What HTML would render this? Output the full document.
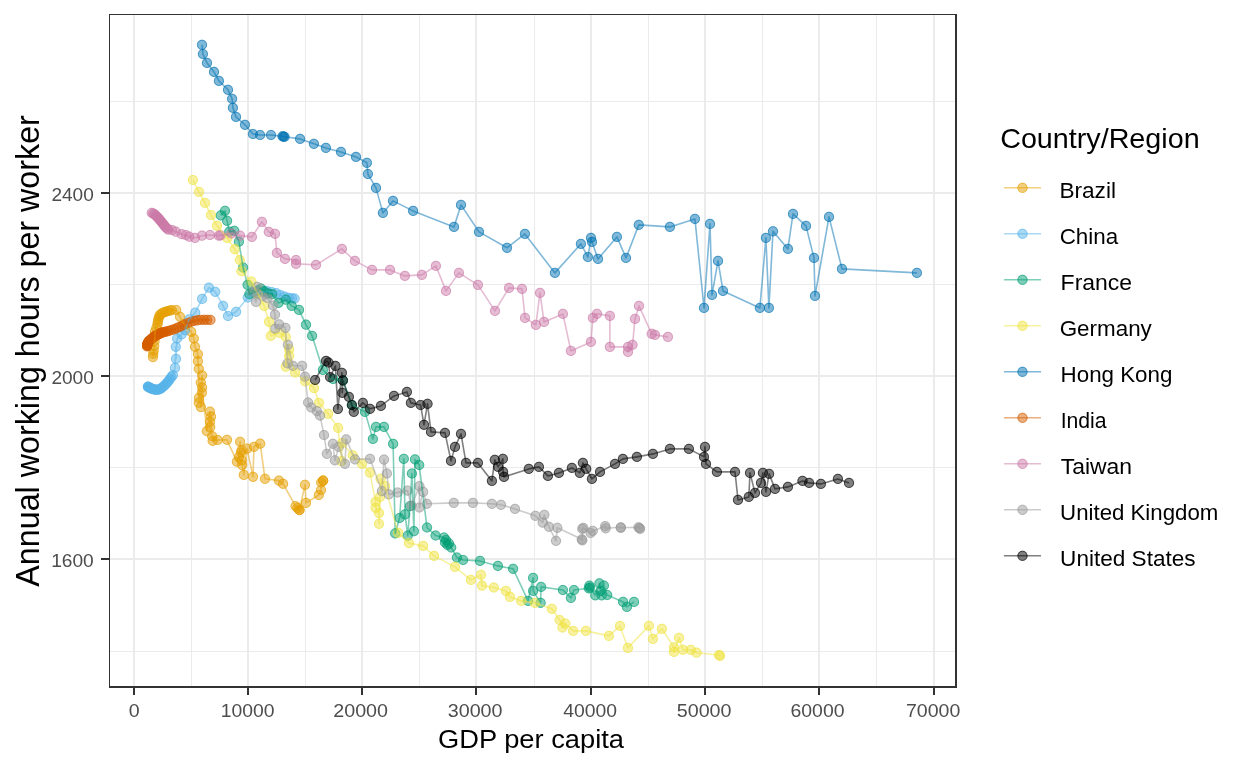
<!DOCTYPE html>
<html lang="en"><head><meta charset="utf-8"><title>Annual working hours vs GDP per capita</title>
<style>html,body{margin:0;padding:0;background:#fff;}body{width:1248px;height:768px;overflow:hidden;}svg{display:block;}text{font-family:"Liberation Sans",sans-serif;}</style></head><body>
<svg width="1248" height="768" viewBox="0 0 1248 768">
<rect width="1248" height="768" fill="#fff"/>
<g shape-rendering="crispEdges"><rect x="191" y="15" width="1" height="671" fill="#ebebeb"/><rect x="305" y="15" width="1" height="671" fill="#ebebeb"/><rect x="419" y="15" width="1" height="671" fill="#ebebeb"/><rect x="534" y="15" width="1" height="671" fill="#ebebeb"/><rect x="648" y="15" width="1" height="671" fill="#ebebeb"/><rect x="762" y="15" width="1" height="671" fill="#ebebeb"/><rect x="876" y="15" width="1" height="671" fill="#ebebeb"/><rect x="110" y="101" width="845" height="1" fill="#ebebeb"/><rect x="110" y="284" width="845" height="1" fill="#ebebeb"/><rect x="110" y="467" width="845" height="1" fill="#ebebeb"/><rect x="110" y="651" width="845" height="1" fill="#ebebeb"/><rect x="133" y="15" width="2" height="671" fill="#ebebeb"/><rect x="247" y="15" width="2" height="671" fill="#ebebeb"/><rect x="361" y="15" width="2" height="671" fill="#ebebeb"/><rect x="475" y="15" width="2" height="671" fill="#ebebeb"/><rect x="590" y="15" width="2" height="671" fill="#ebebeb"/><rect x="704" y="15" width="2" height="671" fill="#ebebeb"/><rect x="818" y="15" width="2" height="671" fill="#ebebeb"/><rect x="933" y="15" width="2" height="671" fill="#ebebeb"/><rect x="110" y="192" width="845" height="2" fill="#ebebeb"/><rect x="110" y="375" width="845" height="2" fill="#ebebeb"/><rect x="110" y="558" width="845" height="2" fill="#ebebeb"/></g>
<g><g fill="#E69F00" fill-opacity="0.5" stroke="none"><circle cx="152.9" cy="357.1" r="5.1"/><circle cx="153.2" cy="354.0" r="5.1"/><circle cx="153.7" cy="350.5" r="5.1"/><circle cx="154.2" cy="346.0" r="5.1"/><circle cx="154.6" cy="341.0" r="5.1"/><circle cx="155.0" cy="336.0" r="5.1"/><circle cx="155.0" cy="331.8" r="5.1"/><circle cx="156.3" cy="328.0" r="5.1"/><circle cx="157.5" cy="324.3" r="5.1"/><circle cx="157.9" cy="321.8" r="5.1"/><circle cx="158.3" cy="319.3" r="5.1"/><circle cx="159.0" cy="317.0" r="5.1"/><circle cx="159.8" cy="315.0" r="5.1"/><circle cx="161.4" cy="313.6" r="5.1"/><circle cx="163.3" cy="312.6" r="5.1"/><circle cx="165.4" cy="311.9" r="5.1"/><circle cx="167.5" cy="311.2" r="5.1"/><circle cx="169.6" cy="310.6" r="5.1"/><circle cx="171.7" cy="310.1" r="5.1"/><circle cx="176.2" cy="310.0" r="5.1"/><circle cx="180.0" cy="316.8" r="5.1"/><circle cx="184.2" cy="324.3" r="5.1"/><circle cx="191.2" cy="331.8" r="5.1"/><circle cx="193.8" cy="338.5" r="5.1"/><circle cx="195.0" cy="346.8" r="5.1"/><circle cx="197.9" cy="354.0" r="5.1"/><circle cx="197.9" cy="361.2" r="5.1"/><circle cx="198.8" cy="368.8" r="5.1"/><circle cx="202.1" cy="375.4" r="5.1"/><circle cx="200.8" cy="382.5" r="5.1"/><circle cx="202.1" cy="387.5" r="5.1"/><circle cx="201.9" cy="392.7" r="5.1"/><circle cx="199.0" cy="397.9" r="5.1"/><circle cx="198.8" cy="402.7" r="5.1"/><circle cx="200.9" cy="407.1" r="5.1"/><circle cx="210.0" cy="411.7" r="5.1"/><circle cx="211.0" cy="416.7" r="5.1"/><circle cx="210.0" cy="421.7" r="5.1"/><circle cx="210.2" cy="427.1" r="5.1"/><circle cx="206.8" cy="431.2" r="5.1"/><circle cx="212.2" cy="436.2" r="5.1"/><circle cx="212.7" cy="440.8" r="5.1"/><circle cx="217.7" cy="440.0" r="5.1"/><circle cx="227.0" cy="439.8" r="5.1"/><circle cx="240.1" cy="441.8" r="5.1"/><circle cx="236.9" cy="461.7" r="5.1"/><circle cx="239.0" cy="457.0" r="5.1"/><circle cx="241.0" cy="452.5" r="5.1"/><circle cx="241.6" cy="450.2" r="5.1"/><circle cx="242.2" cy="465.1" r="5.1"/><circle cx="241.8" cy="460.4" r="5.1"/><circle cx="243.8" cy="474.9" r="5.1"/><circle cx="247.1" cy="448.7" r="5.1"/><circle cx="253.0" cy="476.8" r="5.1"/><circle cx="254.0" cy="446.8" r="5.1"/><circle cx="260.2" cy="443.7" r="5.1"/><circle cx="265.0" cy="478.8" r="5.1"/><circle cx="278.9" cy="480.6" r="5.1"/><circle cx="283.1" cy="483.8" r="5.1"/><circle cx="295.6" cy="506.2" r="5.1"/><circle cx="299.4" cy="510.0" r="5.1"/><circle cx="299.4" cy="510.0" r="5.1"/><circle cx="297.5" cy="508.0" r="5.1"/><circle cx="305.0" cy="484.8" r="5.1"/><circle cx="306.0" cy="502.9" r="5.1"/><circle cx="318.8" cy="495.0" r="5.1"/><circle cx="321.0" cy="490.0" r="5.1"/><circle cx="321.2" cy="482.5" r="5.1"/><circle cx="323.1" cy="480.6" r="5.1"/><circle cx="323.1" cy="480.6" r="5.1"/></g><g fill="none" stroke="#E69F00" stroke-opacity="0.5" stroke-width="1.0"><circle cx="152.9" cy="357.1" r="4.6"/><circle cx="153.2" cy="354.0" r="4.6"/><circle cx="153.7" cy="350.5" r="4.6"/><circle cx="154.2" cy="346.0" r="4.6"/><circle cx="154.6" cy="341.0" r="4.6"/><circle cx="155.0" cy="336.0" r="4.6"/><circle cx="155.0" cy="331.8" r="4.6"/><circle cx="156.3" cy="328.0" r="4.6"/><circle cx="157.5" cy="324.3" r="4.6"/><circle cx="157.9" cy="321.8" r="4.6"/><circle cx="158.3" cy="319.3" r="4.6"/><circle cx="159.0" cy="317.0" r="4.6"/><circle cx="159.8" cy="315.0" r="4.6"/><circle cx="161.4" cy="313.6" r="4.6"/><circle cx="163.3" cy="312.6" r="4.6"/><circle cx="165.4" cy="311.9" r="4.6"/><circle cx="167.5" cy="311.2" r="4.6"/><circle cx="169.6" cy="310.6" r="4.6"/><circle cx="171.7" cy="310.1" r="4.6"/><circle cx="176.2" cy="310.0" r="4.6"/><circle cx="180.0" cy="316.8" r="4.6"/><circle cx="184.2" cy="324.3" r="4.6"/><circle cx="191.2" cy="331.8" r="4.6"/><circle cx="193.8" cy="338.5" r="4.6"/><circle cx="195.0" cy="346.8" r="4.6"/><circle cx="197.9" cy="354.0" r="4.6"/><circle cx="197.9" cy="361.2" r="4.6"/><circle cx="198.8" cy="368.8" r="4.6"/><circle cx="202.1" cy="375.4" r="4.6"/><circle cx="200.8" cy="382.5" r="4.6"/><circle cx="202.1" cy="387.5" r="4.6"/><circle cx="201.9" cy="392.7" r="4.6"/><circle cx="199.0" cy="397.9" r="4.6"/><circle cx="198.8" cy="402.7" r="4.6"/><circle cx="200.9" cy="407.1" r="4.6"/><circle cx="210.0" cy="411.7" r="4.6"/><circle cx="211.0" cy="416.7" r="4.6"/><circle cx="210.0" cy="421.7" r="4.6"/><circle cx="210.2" cy="427.1" r="4.6"/><circle cx="206.8" cy="431.2" r="4.6"/><circle cx="212.2" cy="436.2" r="4.6"/><circle cx="212.7" cy="440.8" r="4.6"/><circle cx="217.7" cy="440.0" r="4.6"/><circle cx="227.0" cy="439.8" r="4.6"/><circle cx="240.1" cy="441.8" r="4.6"/><circle cx="236.9" cy="461.7" r="4.6"/><circle cx="239.0" cy="457.0" r="4.6"/><circle cx="241.0" cy="452.5" r="4.6"/><circle cx="241.6" cy="450.2" r="4.6"/><circle cx="242.2" cy="465.1" r="4.6"/><circle cx="241.8" cy="460.4" r="4.6"/><circle cx="243.8" cy="474.9" r="4.6"/><circle cx="247.1" cy="448.7" r="4.6"/><circle cx="253.0" cy="476.8" r="4.6"/><circle cx="254.0" cy="446.8" r="4.6"/><circle cx="260.2" cy="443.7" r="4.6"/><circle cx="265.0" cy="478.8" r="4.6"/><circle cx="278.9" cy="480.6" r="4.6"/><circle cx="283.1" cy="483.8" r="4.6"/><circle cx="295.6" cy="506.2" r="4.6"/><circle cx="299.4" cy="510.0" r="4.6"/><circle cx="299.4" cy="510.0" r="4.6"/><circle cx="297.5" cy="508.0" r="4.6"/><circle cx="305.0" cy="484.8" r="4.6"/><circle cx="306.0" cy="502.9" r="4.6"/><circle cx="318.8" cy="495.0" r="4.6"/><circle cx="321.0" cy="490.0" r="4.6"/><circle cx="321.2" cy="482.5" r="4.6"/><circle cx="323.1" cy="480.6" r="4.6"/><circle cx="323.1" cy="480.6" r="4.6"/></g>
<g fill="#56B4E9" fill-opacity="0.5" stroke="none"><circle cx="147.9" cy="386.7" r="5.1"/><circle cx="148.0" cy="386.8" r="5.1"/><circle cx="148.3" cy="386.9" r="5.1"/><circle cx="148.8" cy="387.2" r="5.1"/><circle cx="149.3" cy="387.5" r="5.1"/><circle cx="150.0" cy="387.8" r="5.1"/><circle cx="150.8" cy="388.3" r="5.1"/><circle cx="151.6" cy="388.7" r="5.1"/><circle cx="152.7" cy="389.0" r="5.1"/><circle cx="153.8" cy="389.3" r="5.1"/><circle cx="155.1" cy="389.6" r="5.1"/><circle cx="156.4" cy="389.9" r="5.1"/><circle cx="157.8" cy="389.7" r="5.1"/><circle cx="159.4" cy="389.4" r="5.1"/><circle cx="160.8" cy="388.6" r="5.1"/><circle cx="162.1" cy="387.6" r="5.1"/><circle cx="163.6" cy="386.4" r="5.1"/><circle cx="164.9" cy="385.1" r="5.1"/><circle cx="166.3" cy="383.7" r="5.1"/><circle cx="167.6" cy="382.2" r="5.1"/><circle cx="168.9" cy="380.5" r="5.1"/><circle cx="170.2" cy="378.7" r="5.1"/><circle cx="171.5" cy="376.9" r="5.1"/><circle cx="172.9" cy="375.0" r="5.1"/><circle cx="175.0" cy="367.9" r="5.1"/><circle cx="176.0" cy="358.8" r="5.1"/><circle cx="175.8" cy="346.8" r="5.1"/><circle cx="177.1" cy="338.5" r="5.1"/><circle cx="181.7" cy="334.3" r="5.1"/><circle cx="185.0" cy="330.2" r="5.1"/><circle cx="189.2" cy="319.3" r="5.1"/><circle cx="195.2" cy="312.7" r="5.1"/><circle cx="202.1" cy="298.9" r="5.1"/><circle cx="208.9" cy="287.7" r="5.1"/><circle cx="215.2" cy="291.8" r="5.1"/><circle cx="223.1" cy="305.8" r="5.1"/><circle cx="228.0" cy="316.0" r="5.1"/><circle cx="236.1" cy="311.8" r="5.1"/><circle cx="247.8" cy="297.5" r="5.1"/><circle cx="257.0" cy="293.0" r="5.1"/><circle cx="263.0" cy="292.0" r="5.1"/><circle cx="267.0" cy="291.2" r="5.1"/><circle cx="271.5" cy="292.0" r="5.1"/><circle cx="276.2" cy="293.2" r="5.1"/><circle cx="280.3" cy="295.0" r="5.1"/><circle cx="284.5" cy="296.6" r="5.1"/><circle cx="288.5" cy="297.8" r="5.1"/><circle cx="292.0" cy="298.3" r="5.1"/><circle cx="294.6" cy="298.6" r="5.1"/></g><g fill="none" stroke="#56B4E9" stroke-opacity="0.5" stroke-width="1.0"><circle cx="147.9" cy="386.7" r="4.6"/><circle cx="148.0" cy="386.8" r="4.6"/><circle cx="148.3" cy="386.9" r="4.6"/><circle cx="148.8" cy="387.2" r="4.6"/><circle cx="149.3" cy="387.5" r="4.6"/><circle cx="150.0" cy="387.8" r="4.6"/><circle cx="150.8" cy="388.3" r="4.6"/><circle cx="151.6" cy="388.7" r="4.6"/><circle cx="152.7" cy="389.0" r="4.6"/><circle cx="153.8" cy="389.3" r="4.6"/><circle cx="155.1" cy="389.6" r="4.6"/><circle cx="156.4" cy="389.9" r="4.6"/><circle cx="157.8" cy="389.7" r="4.6"/><circle cx="159.4" cy="389.4" r="4.6"/><circle cx="160.8" cy="388.6" r="4.6"/><circle cx="162.1" cy="387.6" r="4.6"/><circle cx="163.6" cy="386.4" r="4.6"/><circle cx="164.9" cy="385.1" r="4.6"/><circle cx="166.3" cy="383.7" r="4.6"/><circle cx="167.6" cy="382.2" r="4.6"/><circle cx="168.9" cy="380.5" r="4.6"/><circle cx="170.2" cy="378.7" r="4.6"/><circle cx="171.5" cy="376.9" r="4.6"/><circle cx="172.9" cy="375.0" r="4.6"/><circle cx="175.0" cy="367.9" r="4.6"/><circle cx="176.0" cy="358.8" r="4.6"/><circle cx="175.8" cy="346.8" r="4.6"/><circle cx="177.1" cy="338.5" r="4.6"/><circle cx="181.7" cy="334.3" r="4.6"/><circle cx="185.0" cy="330.2" r="4.6"/><circle cx="189.2" cy="319.3" r="4.6"/><circle cx="195.2" cy="312.7" r="4.6"/><circle cx="202.1" cy="298.9" r="4.6"/><circle cx="208.9" cy="287.7" r="4.6"/><circle cx="215.2" cy="291.8" r="4.6"/><circle cx="223.1" cy="305.8" r="4.6"/><circle cx="228.0" cy="316.0" r="4.6"/><circle cx="236.1" cy="311.8" r="4.6"/><circle cx="247.8" cy="297.5" r="4.6"/><circle cx="257.0" cy="293.0" r="4.6"/><circle cx="263.0" cy="292.0" r="4.6"/><circle cx="267.0" cy="291.2" r="4.6"/><circle cx="271.5" cy="292.0" r="4.6"/><circle cx="276.2" cy="293.2" r="4.6"/><circle cx="280.3" cy="295.0" r="4.6"/><circle cx="284.5" cy="296.6" r="4.6"/><circle cx="288.5" cy="297.8" r="4.6"/><circle cx="292.0" cy="298.3" r="4.6"/><circle cx="294.6" cy="298.6" r="4.6"/></g>
<g fill="#009E73" fill-opacity="0.5" stroke="none"><circle cx="220.8" cy="215.4" r="5.1"/><circle cx="225.0" cy="210.8" r="5.1"/><circle cx="227.1" cy="220.8" r="5.1"/><circle cx="229.3" cy="231.7" r="5.1"/><circle cx="234.3" cy="230.8" r="5.1"/><circle cx="238.9" cy="241.7" r="5.1"/><circle cx="243.1" cy="267.5" r="5.1"/><circle cx="247.6" cy="284.9" r="5.1"/><circle cx="249.4" cy="294.2" r="5.1"/><circle cx="253.5" cy="292.5" r="5.1"/><circle cx="257.5" cy="290.5" r="5.1"/><circle cx="261.0" cy="288.6" r="5.1"/><circle cx="264.0" cy="291.0" r="5.1"/><circle cx="268.0" cy="293.5" r="5.1"/><circle cx="272.2" cy="294.2" r="5.1"/><circle cx="278.5" cy="302.9" r="5.1"/><circle cx="285.8" cy="299.7" r="5.1"/><circle cx="291.7" cy="305.9" r="5.1"/><circle cx="299.0" cy="309.9" r="5.1"/><circle cx="306.0" cy="324.7" r="5.1"/><circle cx="312.1" cy="335.8" r="5.1"/><circle cx="322.9" cy="369.9" r="5.1"/><circle cx="333.1" cy="379.0" r="5.1"/><circle cx="342.9" cy="380.5" r="5.1"/><circle cx="351.9" cy="405.0" r="5.1"/><circle cx="365.0" cy="411.9" r="5.1"/><circle cx="376.0" cy="426.9" r="5.1"/><circle cx="372.9" cy="439.0" r="5.1"/><circle cx="384.0" cy="426.9" r="5.1"/><circle cx="393.1" cy="443.8" r="5.1"/><circle cx="403.8" cy="458.8" r="5.1"/><circle cx="415.0" cy="459.4" r="5.1"/><circle cx="419.2" cy="465.0" r="5.1"/><circle cx="411.9" cy="473.5" r="5.1"/><circle cx="399.6" cy="518.0" r="5.1"/><circle cx="405.0" cy="514.4" r="5.1"/><circle cx="410.0" cy="506.2" r="5.1"/><circle cx="395.2" cy="533.4" r="5.1"/><circle cx="413.9" cy="531.2" r="5.1"/><circle cx="407.7" cy="535.6" r="5.1"/><circle cx="427.0" cy="527.5" r="5.1"/><circle cx="435.6" cy="535.5" r="5.1"/><circle cx="444.0" cy="537.5" r="5.1"/><circle cx="445.0" cy="542.5" r="5.1"/><circle cx="446.0" cy="540.0" r="5.1"/><circle cx="447.5" cy="545.0" r="5.1"/><circle cx="449.0" cy="543.5" r="5.1"/><circle cx="451.2" cy="547.5" r="5.1"/><circle cx="456.9" cy="557.5" r="5.1"/><circle cx="463.1" cy="560.0" r="5.1"/><circle cx="480.0" cy="560.9" r="5.1"/><circle cx="497.9" cy="565.9" r="5.1"/><circle cx="513.1" cy="568.8" r="5.1"/><circle cx="528.1" cy="600.9" r="5.1"/><circle cx="533.1" cy="577.9" r="5.1"/><circle cx="533.1" cy="590.9" r="5.1"/><circle cx="541.1" cy="586.9" r="5.1"/><circle cx="540.6" cy="602.8" r="5.1"/><circle cx="562.9" cy="590.0" r="5.1"/><circle cx="570.9" cy="597.9" r="5.1"/><circle cx="574.0" cy="590.0" r="5.1"/><circle cx="589.4" cy="585.7" r="5.1"/><circle cx="590.0" cy="587.5" r="5.1"/><circle cx="588.8" cy="588.3" r="5.1"/><circle cx="595.3" cy="595.3" r="5.1"/><circle cx="599.4" cy="583.4" r="5.1"/><circle cx="603.9" cy="585.6" r="5.1"/><circle cx="601.6" cy="595.3" r="5.1"/><circle cx="600.5" cy="591.0" r="5.1"/><circle cx="607.2" cy="595.0" r="5.1"/><circle cx="623.1" cy="601.9" r="5.1"/><circle cx="626.9" cy="606.9" r="5.1"/><circle cx="634.0" cy="601.9" r="5.1"/></g><g fill="none" stroke="#009E73" stroke-opacity="0.5" stroke-width="1.0"><circle cx="220.8" cy="215.4" r="4.6"/><circle cx="225.0" cy="210.8" r="4.6"/><circle cx="227.1" cy="220.8" r="4.6"/><circle cx="229.3" cy="231.7" r="4.6"/><circle cx="234.3" cy="230.8" r="4.6"/><circle cx="238.9" cy="241.7" r="4.6"/><circle cx="243.1" cy="267.5" r="4.6"/><circle cx="247.6" cy="284.9" r="4.6"/><circle cx="249.4" cy="294.2" r="4.6"/><circle cx="253.5" cy="292.5" r="4.6"/><circle cx="257.5" cy="290.5" r="4.6"/><circle cx="261.0" cy="288.6" r="4.6"/><circle cx="264.0" cy="291.0" r="4.6"/><circle cx="268.0" cy="293.5" r="4.6"/><circle cx="272.2" cy="294.2" r="4.6"/><circle cx="278.5" cy="302.9" r="4.6"/><circle cx="285.8" cy="299.7" r="4.6"/><circle cx="291.7" cy="305.9" r="4.6"/><circle cx="299.0" cy="309.9" r="4.6"/><circle cx="306.0" cy="324.7" r="4.6"/><circle cx="312.1" cy="335.8" r="4.6"/><circle cx="322.9" cy="369.9" r="4.6"/><circle cx="333.1" cy="379.0" r="4.6"/><circle cx="342.9" cy="380.5" r="4.6"/><circle cx="351.9" cy="405.0" r="4.6"/><circle cx="365.0" cy="411.9" r="4.6"/><circle cx="376.0" cy="426.9" r="4.6"/><circle cx="372.9" cy="439.0" r="4.6"/><circle cx="384.0" cy="426.9" r="4.6"/><circle cx="393.1" cy="443.8" r="4.6"/><circle cx="403.8" cy="458.8" r="4.6"/><circle cx="415.0" cy="459.4" r="4.6"/><circle cx="419.2" cy="465.0" r="4.6"/><circle cx="411.9" cy="473.5" r="4.6"/><circle cx="399.6" cy="518.0" r="4.6"/><circle cx="405.0" cy="514.4" r="4.6"/><circle cx="410.0" cy="506.2" r="4.6"/><circle cx="395.2" cy="533.4" r="4.6"/><circle cx="413.9" cy="531.2" r="4.6"/><circle cx="407.7" cy="535.6" r="4.6"/><circle cx="427.0" cy="527.5" r="4.6"/><circle cx="435.6" cy="535.5" r="4.6"/><circle cx="444.0" cy="537.5" r="4.6"/><circle cx="445.0" cy="542.5" r="4.6"/><circle cx="446.0" cy="540.0" r="4.6"/><circle cx="447.5" cy="545.0" r="4.6"/><circle cx="449.0" cy="543.5" r="4.6"/><circle cx="451.2" cy="547.5" r="4.6"/><circle cx="456.9" cy="557.5" r="4.6"/><circle cx="463.1" cy="560.0" r="4.6"/><circle cx="480.0" cy="560.9" r="4.6"/><circle cx="497.9" cy="565.9" r="4.6"/><circle cx="513.1" cy="568.8" r="4.6"/><circle cx="528.1" cy="600.9" r="4.6"/><circle cx="533.1" cy="577.9" r="4.6"/><circle cx="533.1" cy="590.9" r="4.6"/><circle cx="541.1" cy="586.9" r="4.6"/><circle cx="540.6" cy="602.8" r="4.6"/><circle cx="562.9" cy="590.0" r="4.6"/><circle cx="570.9" cy="597.9" r="4.6"/><circle cx="574.0" cy="590.0" r="4.6"/><circle cx="589.4" cy="585.7" r="4.6"/><circle cx="590.0" cy="587.5" r="4.6"/><circle cx="588.8" cy="588.3" r="4.6"/><circle cx="595.3" cy="595.3" r="4.6"/><circle cx="599.4" cy="583.4" r="4.6"/><circle cx="603.9" cy="585.6" r="4.6"/><circle cx="601.6" cy="595.3" r="4.6"/><circle cx="600.5" cy="591.0" r="4.6"/><circle cx="607.2" cy="595.0" r="4.6"/><circle cx="623.1" cy="601.9" r="4.6"/><circle cx="626.9" cy="606.9" r="4.6"/><circle cx="634.0" cy="601.9" r="4.6"/></g>
<g fill="#F0E442" fill-opacity="0.5" stroke="none"><circle cx="192.9" cy="180.0" r="5.1"/><circle cx="199.0" cy="191.9" r="5.1"/><circle cx="205.0" cy="202.9" r="5.1"/><circle cx="211.0" cy="215.0" r="5.1"/><circle cx="217.0" cy="225.8" r="5.1"/><circle cx="227.3" cy="238.0" r="5.1"/><circle cx="234.8" cy="249.2" r="5.1"/><circle cx="239.8" cy="260.0" r="5.1"/><circle cx="241.5" cy="271.2" r="5.1"/><circle cx="251.4" cy="281.5" r="5.1"/><circle cx="258.0" cy="294.0" r="5.1"/><circle cx="264.3" cy="306.0" r="5.1"/><circle cx="269.0" cy="321.8" r="5.1"/><circle cx="270.8" cy="335.8" r="5.1"/><circle cx="279.5" cy="332.8" r="5.1"/><circle cx="285.8" cy="336.9" r="5.1"/><circle cx="289.1" cy="349.2" r="5.1"/><circle cx="289.2" cy="355.8" r="5.1"/><circle cx="285.8" cy="366.7" r="5.1"/><circle cx="295.0" cy="372.5" r="5.1"/><circle cx="305.3" cy="381.5" r="5.1"/><circle cx="314.0" cy="388.1" r="5.1"/><circle cx="319.0" cy="402.9" r="5.1"/><circle cx="328.1" cy="413.8" r="5.1"/><circle cx="338.1" cy="427.9" r="5.1"/><circle cx="342.0" cy="443.1" r="5.1"/><circle cx="341.5" cy="461.2" r="5.1"/><circle cx="352.8" cy="455.3" r="5.1"/><circle cx="362.0" cy="463.8" r="5.1"/><circle cx="369.9" cy="472.6" r="5.1"/><circle cx="375.6" cy="501.9" r="5.1"/><circle cx="375.6" cy="507.8" r="5.1"/><circle cx="379.0" cy="513.1" r="5.1"/><circle cx="379.0" cy="523.8" r="5.1"/><circle cx="380.0" cy="496.9" r="5.1"/><circle cx="380.6" cy="478.8" r="5.1"/><circle cx="385.0" cy="486.2" r="5.1"/><circle cx="398.1" cy="532.8" r="5.1"/><circle cx="409.0" cy="543.1" r="5.1"/><circle cx="423.1" cy="545.9" r="5.1"/><circle cx="434.1" cy="555.9" r="5.1"/><circle cx="455.0" cy="566.9" r="5.1"/><circle cx="470.9" cy="579.9" r="5.1"/><circle cx="481.0" cy="574.9" r="5.1"/><circle cx="482.0" cy="585.6" r="5.1"/><circle cx="493.8" cy="587.5" r="5.1"/><circle cx="505.9" cy="590.9" r="5.1"/><circle cx="510.0" cy="596.9" r="5.1"/><circle cx="521.2" cy="600.9" r="5.1"/><circle cx="535.0" cy="602.9" r="5.1"/><circle cx="551.9" cy="608.8" r="5.1"/><circle cx="559.6" cy="620.0" r="5.1"/><circle cx="562.5" cy="627.5" r="5.1"/><circle cx="565.3" cy="623.5" r="5.1"/><circle cx="573.1" cy="630.9" r="5.1"/><circle cx="585.9" cy="630.9" r="5.1"/><circle cx="608.9" cy="635.9" r="5.1"/><circle cx="620.0" cy="625.9" r="5.1"/><circle cx="627.9" cy="647.9" r="5.1"/><circle cx="648.9" cy="625.9" r="5.1"/><circle cx="652.9" cy="638.9" r="5.1"/><circle cx="661.9" cy="628.8" r="5.1"/><circle cx="674.0" cy="647.3" r="5.1"/><circle cx="674.0" cy="651.9" r="5.1"/><circle cx="679.0" cy="637.8" r="5.1"/><circle cx="683.0" cy="649.8" r="5.1"/><circle cx="690.8" cy="649.8" r="5.1"/><circle cx="696.5" cy="652.7" r="5.1"/><circle cx="719.1" cy="655.0" r="5.1"/><circle cx="720.0" cy="655.9" r="5.1"/></g><g fill="none" stroke="#F0E442" stroke-opacity="0.5" stroke-width="1.0"><circle cx="192.9" cy="180.0" r="4.6"/><circle cx="199.0" cy="191.9" r="4.6"/><circle cx="205.0" cy="202.9" r="4.6"/><circle cx="211.0" cy="215.0" r="4.6"/><circle cx="217.0" cy="225.8" r="4.6"/><circle cx="227.3" cy="238.0" r="4.6"/><circle cx="234.8" cy="249.2" r="4.6"/><circle cx="239.8" cy="260.0" r="4.6"/><circle cx="241.5" cy="271.2" r="4.6"/><circle cx="251.4" cy="281.5" r="4.6"/><circle cx="258.0" cy="294.0" r="4.6"/><circle cx="264.3" cy="306.0" r="4.6"/><circle cx="269.0" cy="321.8" r="4.6"/><circle cx="270.8" cy="335.8" r="4.6"/><circle cx="279.5" cy="332.8" r="4.6"/><circle cx="285.8" cy="336.9" r="4.6"/><circle cx="289.1" cy="349.2" r="4.6"/><circle cx="289.2" cy="355.8" r="4.6"/><circle cx="285.8" cy="366.7" r="4.6"/><circle cx="295.0" cy="372.5" r="4.6"/><circle cx="305.3" cy="381.5" r="4.6"/><circle cx="314.0" cy="388.1" r="4.6"/><circle cx="319.0" cy="402.9" r="4.6"/><circle cx="328.1" cy="413.8" r="4.6"/><circle cx="338.1" cy="427.9" r="4.6"/><circle cx="342.0" cy="443.1" r="4.6"/><circle cx="341.5" cy="461.2" r="4.6"/><circle cx="352.8" cy="455.3" r="4.6"/><circle cx="362.0" cy="463.8" r="4.6"/><circle cx="369.9" cy="472.6" r="4.6"/><circle cx="375.6" cy="501.9" r="4.6"/><circle cx="375.6" cy="507.8" r="4.6"/><circle cx="379.0" cy="513.1" r="4.6"/><circle cx="379.0" cy="523.8" r="4.6"/><circle cx="380.0" cy="496.9" r="4.6"/><circle cx="380.6" cy="478.8" r="4.6"/><circle cx="385.0" cy="486.2" r="4.6"/><circle cx="398.1" cy="532.8" r="4.6"/><circle cx="409.0" cy="543.1" r="4.6"/><circle cx="423.1" cy="545.9" r="4.6"/><circle cx="434.1" cy="555.9" r="4.6"/><circle cx="455.0" cy="566.9" r="4.6"/><circle cx="470.9" cy="579.9" r="4.6"/><circle cx="481.0" cy="574.9" r="4.6"/><circle cx="482.0" cy="585.6" r="4.6"/><circle cx="493.8" cy="587.5" r="4.6"/><circle cx="505.9" cy="590.9" r="4.6"/><circle cx="510.0" cy="596.9" r="4.6"/><circle cx="521.2" cy="600.9" r="4.6"/><circle cx="535.0" cy="602.9" r="4.6"/><circle cx="551.9" cy="608.8" r="4.6"/><circle cx="559.6" cy="620.0" r="4.6"/><circle cx="562.5" cy="627.5" r="4.6"/><circle cx="565.3" cy="623.5" r="4.6"/><circle cx="573.1" cy="630.9" r="4.6"/><circle cx="585.9" cy="630.9" r="4.6"/><circle cx="608.9" cy="635.9" r="4.6"/><circle cx="620.0" cy="625.9" r="4.6"/><circle cx="627.9" cy="647.9" r="4.6"/><circle cx="648.9" cy="625.9" r="4.6"/><circle cx="652.9" cy="638.9" r="4.6"/><circle cx="661.9" cy="628.8" r="4.6"/><circle cx="674.0" cy="647.3" r="4.6"/><circle cx="674.0" cy="651.9" r="4.6"/><circle cx="679.0" cy="637.8" r="4.6"/><circle cx="683.0" cy="649.8" r="4.6"/><circle cx="690.8" cy="649.8" r="4.6"/><circle cx="696.5" cy="652.7" r="4.6"/><circle cx="719.1" cy="655.0" r="4.6"/><circle cx="720.0" cy="655.9" r="4.6"/></g>
<g fill="#0072B2" fill-opacity="0.5" stroke="none"><circle cx="202.0" cy="44.8" r="5.1"/><circle cx="202.9" cy="54.0" r="5.1"/><circle cx="207.0" cy="62.9" r="5.1"/><circle cx="214.0" cy="71.9" r="5.1"/><circle cx="218.9" cy="80.9" r="5.1"/><circle cx="228.0" cy="89.8" r="5.1"/><circle cx="232.1" cy="98.8" r="5.1"/><circle cx="232.9" cy="107.8" r="5.1"/><circle cx="236.0" cy="116.9" r="5.1"/><circle cx="245.0" cy="124.8" r="5.1"/><circle cx="252.9" cy="134.0" r="5.1"/><circle cx="260.1" cy="135.0" r="5.1"/><circle cx="271.0" cy="135.0" r="5.1"/><circle cx="282.5" cy="136.3" r="5.1"/><circle cx="283.5" cy="136.5" r="5.1"/><circle cx="284.5" cy="136.8" r="5.1"/><circle cx="300.1" cy="138.9" r="5.1"/><circle cx="313.9" cy="143.8" r="5.1"/><circle cx="325.9" cy="147.9" r="5.1"/><circle cx="341.0" cy="151.9" r="5.1"/><circle cx="356.0" cy="156.9" r="5.1"/><circle cx="366.9" cy="162.8" r="5.1"/><circle cx="367.9" cy="174.0" r="5.1"/><circle cx="376.0" cy="187.9" r="5.1"/><circle cx="382.9" cy="212.9" r="5.1"/><circle cx="393.0" cy="200.9" r="5.1"/><circle cx="413.1" cy="210.9" r="5.1"/><circle cx="454.0" cy="226.9" r="5.1"/><circle cx="461.0" cy="204.9" r="5.1"/><circle cx="479.0" cy="231.9" r="5.1"/><circle cx="507.0" cy="247.8" r="5.1"/><circle cx="524.9" cy="233.9" r="5.1"/><circle cx="554.9" cy="272.9" r="5.1"/><circle cx="580.9" cy="243.9" r="5.1"/><circle cx="587.9" cy="257.0" r="5.1"/><circle cx="591.0" cy="237.9" r="5.1"/><circle cx="592.0" cy="241.9" r="5.1"/><circle cx="598.0" cy="258.9" r="5.1"/><circle cx="616.9" cy="236.9" r="5.1"/><circle cx="626.0" cy="257.9" r="5.1"/><circle cx="638.8" cy="224.9" r="5.1"/><circle cx="669.9" cy="226.9" r="5.1"/><circle cx="694.9" cy="218.9" r="5.1"/><circle cx="704.0" cy="307.9" r="5.1"/><circle cx="710.0" cy="223.9" r="5.1"/><circle cx="712.0" cy="294.9" r="5.1"/><circle cx="718.0" cy="260.9" r="5.1"/><circle cx="723.0" cy="290.9" r="5.1"/><circle cx="759.9" cy="307.9" r="5.1"/><circle cx="765.9" cy="237.9" r="5.1"/><circle cx="768.9" cy="307.9" r="5.1"/><circle cx="773.0" cy="231.3" r="5.1"/><circle cx="787.9" cy="248.9" r="5.1"/><circle cx="793.0" cy="213.9" r="5.1"/><circle cx="806.0" cy="225.9" r="5.1"/><circle cx="814.0" cy="257.9" r="5.1"/><circle cx="815.0" cy="295.9" r="5.1"/><circle cx="829.0" cy="216.9" r="5.1"/><circle cx="842.0" cy="268.9" r="5.1"/><circle cx="916.9" cy="272.9" r="5.1"/></g><g fill="none" stroke="#0072B2" stroke-opacity="0.5" stroke-width="1.0"><circle cx="202.0" cy="44.8" r="4.6"/><circle cx="202.9" cy="54.0" r="4.6"/><circle cx="207.0" cy="62.9" r="4.6"/><circle cx="214.0" cy="71.9" r="4.6"/><circle cx="218.9" cy="80.9" r="4.6"/><circle cx="228.0" cy="89.8" r="4.6"/><circle cx="232.1" cy="98.8" r="4.6"/><circle cx="232.9" cy="107.8" r="4.6"/><circle cx="236.0" cy="116.9" r="4.6"/><circle cx="245.0" cy="124.8" r="4.6"/><circle cx="252.9" cy="134.0" r="4.6"/><circle cx="260.1" cy="135.0" r="4.6"/><circle cx="271.0" cy="135.0" r="4.6"/><circle cx="282.5" cy="136.3" r="4.6"/><circle cx="283.5" cy="136.5" r="4.6"/><circle cx="284.5" cy="136.8" r="4.6"/><circle cx="300.1" cy="138.9" r="4.6"/><circle cx="313.9" cy="143.8" r="4.6"/><circle cx="325.9" cy="147.9" r="4.6"/><circle cx="341.0" cy="151.9" r="4.6"/><circle cx="356.0" cy="156.9" r="4.6"/><circle cx="366.9" cy="162.8" r="4.6"/><circle cx="367.9" cy="174.0" r="4.6"/><circle cx="376.0" cy="187.9" r="4.6"/><circle cx="382.9" cy="212.9" r="4.6"/><circle cx="393.0" cy="200.9" r="4.6"/><circle cx="413.1" cy="210.9" r="4.6"/><circle cx="454.0" cy="226.9" r="4.6"/><circle cx="461.0" cy="204.9" r="4.6"/><circle cx="479.0" cy="231.9" r="4.6"/><circle cx="507.0" cy="247.8" r="4.6"/><circle cx="524.9" cy="233.9" r="4.6"/><circle cx="554.9" cy="272.9" r="4.6"/><circle cx="580.9" cy="243.9" r="4.6"/><circle cx="587.9" cy="257.0" r="4.6"/><circle cx="591.0" cy="237.9" r="4.6"/><circle cx="592.0" cy="241.9" r="4.6"/><circle cx="598.0" cy="258.9" r="4.6"/><circle cx="616.9" cy="236.9" r="4.6"/><circle cx="626.0" cy="257.9" r="4.6"/><circle cx="638.8" cy="224.9" r="4.6"/><circle cx="669.9" cy="226.9" r="4.6"/><circle cx="694.9" cy="218.9" r="4.6"/><circle cx="704.0" cy="307.9" r="4.6"/><circle cx="710.0" cy="223.9" r="4.6"/><circle cx="712.0" cy="294.9" r="4.6"/><circle cx="718.0" cy="260.9" r="4.6"/><circle cx="723.0" cy="290.9" r="4.6"/><circle cx="759.9" cy="307.9" r="4.6"/><circle cx="765.9" cy="237.9" r="4.6"/><circle cx="768.9" cy="307.9" r="4.6"/><circle cx="773.0" cy="231.3" r="4.6"/><circle cx="787.9" cy="248.9" r="4.6"/><circle cx="793.0" cy="213.9" r="4.6"/><circle cx="806.0" cy="225.9" r="4.6"/><circle cx="814.0" cy="257.9" r="4.6"/><circle cx="815.0" cy="295.9" r="4.6"/><circle cx="829.0" cy="216.9" r="4.6"/><circle cx="842.0" cy="268.9" r="4.6"/><circle cx="916.9" cy="272.9" r="4.6"/></g>
<g fill="#D55E00" fill-opacity="0.5" stroke="none"><circle cx="147.1" cy="346.3" r="5.1"/><circle cx="147.1" cy="345.8" r="5.1"/><circle cx="147.2" cy="345.4" r="5.1"/><circle cx="147.2" cy="344.9" r="5.1"/><circle cx="147.3" cy="344.4" r="5.1"/><circle cx="147.4" cy="344.0" r="5.1"/><circle cx="147.6" cy="343.5" r="5.1"/><circle cx="147.8" cy="343.1" r="5.1"/><circle cx="147.9" cy="342.7" r="5.1"/><circle cx="148.1" cy="342.3" r="5.1"/><circle cx="148.4" cy="341.9" r="5.1"/><circle cx="148.7" cy="341.5" r="5.1"/><circle cx="149.0" cy="341.2" r="5.1"/><circle cx="149.3" cy="340.8" r="5.1"/><circle cx="149.8" cy="340.4" r="5.1"/><circle cx="150.4" cy="339.8" r="5.1"/><circle cx="151.1" cy="339.2" r="5.1"/><circle cx="151.7" cy="338.7" r="5.1"/><circle cx="152.3" cy="338.2" r="5.1"/><circle cx="153.0" cy="337.7" r="5.1"/><circle cx="153.6" cy="337.2" r="5.1"/><circle cx="154.2" cy="336.6" r="5.1"/><circle cx="154.9" cy="336.1" r="5.1"/><circle cx="155.5" cy="335.8" r="5.1"/><circle cx="156.4" cy="335.3" r="5.1"/><circle cx="157.3" cy="334.9" r="5.1"/><circle cx="158.2" cy="334.4" r="5.1"/><circle cx="159.1" cy="334.0" r="5.1"/><circle cx="159.9" cy="333.6" r="5.1"/><circle cx="160.8" cy="333.1" r="5.1"/><circle cx="161.7" cy="332.7" r="5.1"/><circle cx="162.6" cy="332.5" r="5.1"/><circle cx="163.5" cy="332.2" r="5.1"/><circle cx="165.0" cy="331.9" r="5.1"/><circle cx="166.9" cy="331.4" r="5.1"/><circle cx="169.1" cy="330.8" r="5.1"/><circle cx="171.4" cy="330.0" r="5.1"/><circle cx="173.8" cy="329.3" r="5.1"/><circle cx="176.3" cy="328.3" r="5.1"/><circle cx="178.9" cy="327.2" r="5.1"/><circle cx="181.6" cy="326.1" r="5.1"/><circle cx="184.3" cy="324.7" r="5.1"/><circle cx="187.6" cy="323.1" r="5.1"/><circle cx="190.8" cy="321.9" r="5.1"/><circle cx="194.1" cy="320.9" r="5.1"/><circle cx="197.4" cy="320.3" r="5.1"/><circle cx="200.6" cy="319.9" r="5.1"/><circle cx="203.9" cy="319.8" r="5.1"/><circle cx="207.1" cy="319.8" r="5.1"/><circle cx="210.4" cy="319.9" r="5.1"/></g><g fill="none" stroke="#D55E00" stroke-opacity="0.5" stroke-width="1.0"><circle cx="147.1" cy="346.3" r="4.6"/><circle cx="147.1" cy="345.8" r="4.6"/><circle cx="147.2" cy="345.4" r="4.6"/><circle cx="147.2" cy="344.9" r="4.6"/><circle cx="147.3" cy="344.4" r="4.6"/><circle cx="147.4" cy="344.0" r="4.6"/><circle cx="147.6" cy="343.5" r="4.6"/><circle cx="147.8" cy="343.1" r="4.6"/><circle cx="147.9" cy="342.7" r="4.6"/><circle cx="148.1" cy="342.3" r="4.6"/><circle cx="148.4" cy="341.9" r="4.6"/><circle cx="148.7" cy="341.5" r="4.6"/><circle cx="149.0" cy="341.2" r="4.6"/><circle cx="149.3" cy="340.8" r="4.6"/><circle cx="149.8" cy="340.4" r="4.6"/><circle cx="150.4" cy="339.8" r="4.6"/><circle cx="151.1" cy="339.2" r="4.6"/><circle cx="151.7" cy="338.7" r="4.6"/><circle cx="152.3" cy="338.2" r="4.6"/><circle cx="153.0" cy="337.7" r="4.6"/><circle cx="153.6" cy="337.2" r="4.6"/><circle cx="154.2" cy="336.6" r="4.6"/><circle cx="154.9" cy="336.1" r="4.6"/><circle cx="155.5" cy="335.8" r="4.6"/><circle cx="156.4" cy="335.3" r="4.6"/><circle cx="157.3" cy="334.9" r="4.6"/><circle cx="158.2" cy="334.4" r="4.6"/><circle cx="159.1" cy="334.0" r="4.6"/><circle cx="159.9" cy="333.6" r="4.6"/><circle cx="160.8" cy="333.1" r="4.6"/><circle cx="161.7" cy="332.7" r="4.6"/><circle cx="162.6" cy="332.5" r="4.6"/><circle cx="163.5" cy="332.2" r="4.6"/><circle cx="165.0" cy="331.9" r="4.6"/><circle cx="166.9" cy="331.4" r="4.6"/><circle cx="169.1" cy="330.8" r="4.6"/><circle cx="171.4" cy="330.0" r="4.6"/><circle cx="173.8" cy="329.3" r="4.6"/><circle cx="176.3" cy="328.3" r="4.6"/><circle cx="178.9" cy="327.2" r="4.6"/><circle cx="181.6" cy="326.1" r="4.6"/><circle cx="184.3" cy="324.7" r="4.6"/><circle cx="187.6" cy="323.1" r="4.6"/><circle cx="190.8" cy="321.9" r="4.6"/><circle cx="194.1" cy="320.9" r="4.6"/><circle cx="197.4" cy="320.3" r="4.6"/><circle cx="200.6" cy="319.9" r="4.6"/><circle cx="203.9" cy="319.8" r="4.6"/><circle cx="207.1" cy="319.8" r="4.6"/><circle cx="210.4" cy="319.9" r="4.6"/></g>
<g fill="#CC79A7" fill-opacity="0.5" stroke="none"><circle cx="151.8" cy="212.9" r="5.1"/><circle cx="153.3" cy="213.5" r="5.1"/><circle cx="154.5" cy="214.4" r="5.1"/><circle cx="155.7" cy="215.4" r="5.1"/><circle cx="156.8" cy="216.6" r="5.1"/><circle cx="157.9" cy="217.7" r="5.1"/><circle cx="159.0" cy="218.9" r="5.1"/><circle cx="160.0" cy="220.1" r="5.1"/><circle cx="161.0" cy="221.3" r="5.1"/><circle cx="162.0" cy="222.5" r="5.1"/><circle cx="163.0" cy="223.8" r="5.1"/><circle cx="164.0" cy="225.0" r="5.1"/><circle cx="164.9" cy="226.3" r="5.1"/><circle cx="166.0" cy="227.4" r="5.1"/><circle cx="167.1" cy="228.5" r="5.1"/><circle cx="168.3" cy="229.6" r="5.1"/><circle cx="172.1" cy="230.0" r="5.1"/><circle cx="175.8" cy="231.7" r="5.1"/><circle cx="181.7" cy="234.2" r="5.1"/><circle cx="185.8" cy="235.0" r="5.1"/><circle cx="189.2" cy="236.7" r="5.1"/><circle cx="195.0" cy="237.9" r="5.1"/><circle cx="202.0" cy="235.7" r="5.1"/><circle cx="210.0" cy="235.0" r="5.1"/><circle cx="218.8" cy="235.7" r="5.1"/><circle cx="220.6" cy="235.3" r="5.1"/><circle cx="231.5" cy="233.5" r="5.1"/><circle cx="240.0" cy="235.6" r="5.1"/><circle cx="251.9" cy="236.9" r="5.1"/><circle cx="261.9" cy="221.9" r="5.1"/><circle cx="268.8" cy="231.9" r="5.1"/><circle cx="275.0" cy="233.8" r="5.1"/><circle cx="276.9" cy="252.9" r="5.1"/><circle cx="285.0" cy="258.9" r="5.1"/><circle cx="296.0" cy="260.0" r="5.1"/><circle cx="296.0" cy="263.8" r="5.1"/><circle cx="316.0" cy="264.9" r="5.1"/><circle cx="341.9" cy="248.9" r="5.1"/><circle cx="354.9" cy="260.9" r="5.1"/><circle cx="372.0" cy="269.9" r="5.1"/><circle cx="390.0" cy="269.9" r="5.1"/><circle cx="404.9" cy="275.9" r="5.1"/><circle cx="421.9" cy="274.9" r="5.1"/><circle cx="435.9" cy="265.9" r="5.1"/><circle cx="446.0" cy="290.9" r="5.1"/><circle cx="458.9" cy="272.9" r="5.1"/><circle cx="477.9" cy="284.9" r="5.1"/><circle cx="495.0" cy="310.9" r="5.1"/><circle cx="509.0" cy="287.9" r="5.1"/><circle cx="522.0" cy="288.9" r="5.1"/><circle cx="525.0" cy="317.9" r="5.1"/><circle cx="535.9" cy="324.9" r="5.1"/><circle cx="540.0" cy="292.9" r="5.1"/><circle cx="544.0" cy="321.9" r="5.1"/><circle cx="562.9" cy="313.9" r="5.1"/><circle cx="570.9" cy="350.9" r="5.1"/><circle cx="590.9" cy="341.9" r="5.1"/><circle cx="592.9" cy="317.9" r="5.1"/><circle cx="597.0" cy="313.8" r="5.1"/><circle cx="609.9" cy="315.9" r="5.1"/><circle cx="609.9" cy="346.9" r="5.1"/><circle cx="628.0" cy="346.9" r="5.1"/><circle cx="628.0" cy="351.9" r="5.1"/><circle cx="632.5" cy="344.8" r="5.1"/><circle cx="635.0" cy="318.9" r="5.1"/><circle cx="639.0" cy="305.9" r="5.1"/><circle cx="651.7" cy="333.8" r="5.1"/><circle cx="655.0" cy="334.9" r="5.1"/><circle cx="667.9" cy="336.9" r="5.1"/></g><g fill="none" stroke="#CC79A7" stroke-opacity="0.5" stroke-width="1.0"><circle cx="151.8" cy="212.9" r="4.6"/><circle cx="153.3" cy="213.5" r="4.6"/><circle cx="154.5" cy="214.4" r="4.6"/><circle cx="155.7" cy="215.4" r="4.6"/><circle cx="156.8" cy="216.6" r="4.6"/><circle cx="157.9" cy="217.7" r="4.6"/><circle cx="159.0" cy="218.9" r="4.6"/><circle cx="160.0" cy="220.1" r="4.6"/><circle cx="161.0" cy="221.3" r="4.6"/><circle cx="162.0" cy="222.5" r="4.6"/><circle cx="163.0" cy="223.8" r="4.6"/><circle cx="164.0" cy="225.0" r="4.6"/><circle cx="164.9" cy="226.3" r="4.6"/><circle cx="166.0" cy="227.4" r="4.6"/><circle cx="167.1" cy="228.5" r="4.6"/><circle cx="168.3" cy="229.6" r="4.6"/><circle cx="172.1" cy="230.0" r="4.6"/><circle cx="175.8" cy="231.7" r="4.6"/><circle cx="181.7" cy="234.2" r="4.6"/><circle cx="185.8" cy="235.0" r="4.6"/><circle cx="189.2" cy="236.7" r="4.6"/><circle cx="195.0" cy="237.9" r="4.6"/><circle cx="202.0" cy="235.7" r="4.6"/><circle cx="210.0" cy="235.0" r="4.6"/><circle cx="218.8" cy="235.7" r="4.6"/><circle cx="220.6" cy="235.3" r="4.6"/><circle cx="231.5" cy="233.5" r="4.6"/><circle cx="240.0" cy="235.6" r="4.6"/><circle cx="251.9" cy="236.9" r="4.6"/><circle cx="261.9" cy="221.9" r="4.6"/><circle cx="268.8" cy="231.9" r="4.6"/><circle cx="275.0" cy="233.8" r="4.6"/><circle cx="276.9" cy="252.9" r="4.6"/><circle cx="285.0" cy="258.9" r="4.6"/><circle cx="296.0" cy="260.0" r="4.6"/><circle cx="296.0" cy="263.8" r="4.6"/><circle cx="316.0" cy="264.9" r="4.6"/><circle cx="341.9" cy="248.9" r="4.6"/><circle cx="354.9" cy="260.9" r="4.6"/><circle cx="372.0" cy="269.9" r="4.6"/><circle cx="390.0" cy="269.9" r="4.6"/><circle cx="404.9" cy="275.9" r="4.6"/><circle cx="421.9" cy="274.9" r="4.6"/><circle cx="435.9" cy="265.9" r="4.6"/><circle cx="446.0" cy="290.9" r="4.6"/><circle cx="458.9" cy="272.9" r="4.6"/><circle cx="477.9" cy="284.9" r="4.6"/><circle cx="495.0" cy="310.9" r="4.6"/><circle cx="509.0" cy="287.9" r="4.6"/><circle cx="522.0" cy="288.9" r="4.6"/><circle cx="525.0" cy="317.9" r="4.6"/><circle cx="535.9" cy="324.9" r="4.6"/><circle cx="540.0" cy="292.9" r="4.6"/><circle cx="544.0" cy="321.9" r="4.6"/><circle cx="562.9" cy="313.9" r="4.6"/><circle cx="570.9" cy="350.9" r="4.6"/><circle cx="590.9" cy="341.9" r="4.6"/><circle cx="592.9" cy="317.9" r="4.6"/><circle cx="597.0" cy="313.8" r="4.6"/><circle cx="609.9" cy="315.9" r="4.6"/><circle cx="609.9" cy="346.9" r="4.6"/><circle cx="628.0" cy="346.9" r="4.6"/><circle cx="628.0" cy="351.9" r="4.6"/><circle cx="632.5" cy="344.8" r="4.6"/><circle cx="635.0" cy="318.9" r="4.6"/><circle cx="639.0" cy="305.9" r="4.6"/><circle cx="651.7" cy="333.8" r="4.6"/><circle cx="655.0" cy="334.9" r="4.6"/><circle cx="667.9" cy="336.9" r="4.6"/></g>
<g fill="#999999" fill-opacity="0.5" stroke="none"><circle cx="252.9" cy="291.8" r="5.1"/><circle cx="256.0" cy="302.0" r="5.1"/><circle cx="257.2" cy="286.8" r="5.1"/><circle cx="262.3" cy="296.1" r="5.1"/><circle cx="267.3" cy="298.0" r="5.1"/><circle cx="272.9" cy="305.5" r="5.1"/><circle cx="275.0" cy="314.6" r="5.1"/><circle cx="279.1" cy="324.4" r="5.1"/><circle cx="275.2" cy="328.8" r="5.1"/><circle cx="285.4" cy="327.8" r="5.1"/><circle cx="287.9" cy="344.8" r="5.1"/><circle cx="287.5" cy="363.3" r="5.1"/><circle cx="292.9" cy="365.8" r="5.1"/><circle cx="302.1" cy="365.8" r="5.1"/><circle cx="305.0" cy="376.7" r="5.1"/><circle cx="308.1" cy="402.5" r="5.1"/><circle cx="311.2" cy="407.5" r="5.1"/><circle cx="316.9" cy="411.2" r="5.1"/><circle cx="320.0" cy="415.6" r="5.1"/><circle cx="324.0" cy="435.0" r="5.1"/><circle cx="326.9" cy="453.8" r="5.1"/><circle cx="332.9" cy="443.8" r="5.1"/><circle cx="334.9" cy="460.3" r="5.1"/><circle cx="338.8" cy="446.9" r="5.1"/><circle cx="346.2" cy="439.4" r="5.1"/><circle cx="345.0" cy="463.8" r="5.1"/><circle cx="355.0" cy="459.4" r="5.1"/><circle cx="370.0" cy="458.8" r="5.1"/><circle cx="384.0" cy="459.6" r="5.1"/><circle cx="386.9" cy="473.5" r="5.1"/><circle cx="381.9" cy="491.2" r="5.1"/><circle cx="388.8" cy="494.4" r="5.1"/><circle cx="397.5" cy="492.5" r="5.1"/><circle cx="407.5" cy="490.6" r="5.1"/><circle cx="419.4" cy="486.2" r="5.1"/><circle cx="423.1" cy="491.9" r="5.1"/><circle cx="411.5" cy="505.6" r="5.1"/><circle cx="419.4" cy="507.5" r="5.1"/><circle cx="426.9" cy="503.8" r="5.1"/><circle cx="453.8" cy="502.9" r="5.1"/><circle cx="472.9" cy="502.9" r="5.1"/><circle cx="491.9" cy="503.8" r="5.1"/><circle cx="501.0" cy="504.8" r="5.1"/><circle cx="515.0" cy="508.9" r="5.1"/><circle cx="535.4" cy="515.8" r="5.1"/><circle cx="544.3" cy="514.8" r="5.1"/><circle cx="542.7" cy="522.6" r="5.1"/><circle cx="549.0" cy="526.8" r="5.1"/><circle cx="557.3" cy="527.8" r="5.1"/><circle cx="556.0" cy="540.8" r="5.1"/><circle cx="582.3" cy="540.3" r="5.1"/><circle cx="581.8" cy="539.3" r="5.1"/><circle cx="583.3" cy="527.8" r="5.1"/><circle cx="582.3" cy="528.9" r="5.1"/><circle cx="590.6" cy="533.0" r="5.1"/><circle cx="592.7" cy="530.9" r="5.1"/><circle cx="605.2" cy="526.2" r="5.1"/><circle cx="605.7" cy="528.3" r="5.1"/><circle cx="620.8" cy="527.3" r="5.1"/><circle cx="620.8" cy="527.8" r="5.1"/><circle cx="638.5" cy="527.3" r="5.1"/><circle cx="640.1" cy="528.9" r="5.1"/><circle cx="639.5" cy="528.0" r="5.1"/></g><g fill="none" stroke="#999999" stroke-opacity="0.5" stroke-width="1.0"><circle cx="252.9" cy="291.8" r="4.6"/><circle cx="256.0" cy="302.0" r="4.6"/><circle cx="257.2" cy="286.8" r="4.6"/><circle cx="262.3" cy="296.1" r="4.6"/><circle cx="267.3" cy="298.0" r="4.6"/><circle cx="272.9" cy="305.5" r="4.6"/><circle cx="275.0" cy="314.6" r="4.6"/><circle cx="279.1" cy="324.4" r="4.6"/><circle cx="275.2" cy="328.8" r="4.6"/><circle cx="285.4" cy="327.8" r="4.6"/><circle cx="287.9" cy="344.8" r="4.6"/><circle cx="287.5" cy="363.3" r="4.6"/><circle cx="292.9" cy="365.8" r="4.6"/><circle cx="302.1" cy="365.8" r="4.6"/><circle cx="305.0" cy="376.7" r="4.6"/><circle cx="308.1" cy="402.5" r="4.6"/><circle cx="311.2" cy="407.5" r="4.6"/><circle cx="316.9" cy="411.2" r="4.6"/><circle cx="320.0" cy="415.6" r="4.6"/><circle cx="324.0" cy="435.0" r="4.6"/><circle cx="326.9" cy="453.8" r="4.6"/><circle cx="332.9" cy="443.8" r="4.6"/><circle cx="334.9" cy="460.3" r="4.6"/><circle cx="338.8" cy="446.9" r="4.6"/><circle cx="346.2" cy="439.4" r="4.6"/><circle cx="345.0" cy="463.8" r="4.6"/><circle cx="355.0" cy="459.4" r="4.6"/><circle cx="370.0" cy="458.8" r="4.6"/><circle cx="384.0" cy="459.6" r="4.6"/><circle cx="386.9" cy="473.5" r="4.6"/><circle cx="381.9" cy="491.2" r="4.6"/><circle cx="388.8" cy="494.4" r="4.6"/><circle cx="397.5" cy="492.5" r="4.6"/><circle cx="407.5" cy="490.6" r="4.6"/><circle cx="419.4" cy="486.2" r="4.6"/><circle cx="423.1" cy="491.9" r="4.6"/><circle cx="411.5" cy="505.6" r="4.6"/><circle cx="419.4" cy="507.5" r="4.6"/><circle cx="426.9" cy="503.8" r="4.6"/><circle cx="453.8" cy="502.9" r="4.6"/><circle cx="472.9" cy="502.9" r="4.6"/><circle cx="491.9" cy="503.8" r="4.6"/><circle cx="501.0" cy="504.8" r="4.6"/><circle cx="515.0" cy="508.9" r="4.6"/><circle cx="535.4" cy="515.8" r="4.6"/><circle cx="544.3" cy="514.8" r="4.6"/><circle cx="542.7" cy="522.6" r="4.6"/><circle cx="549.0" cy="526.8" r="4.6"/><circle cx="557.3" cy="527.8" r="4.6"/><circle cx="556.0" cy="540.8" r="4.6"/><circle cx="582.3" cy="540.3" r="4.6"/><circle cx="581.8" cy="539.3" r="4.6"/><circle cx="583.3" cy="527.8" r="4.6"/><circle cx="582.3" cy="528.9" r="4.6"/><circle cx="590.6" cy="533.0" r="4.6"/><circle cx="592.7" cy="530.9" r="4.6"/><circle cx="605.2" cy="526.2" r="4.6"/><circle cx="605.7" cy="528.3" r="4.6"/><circle cx="620.8" cy="527.3" r="4.6"/><circle cx="620.8" cy="527.8" r="4.6"/><circle cx="638.5" cy="527.3" r="4.6"/><circle cx="640.1" cy="528.9" r="4.6"/><circle cx="639.5" cy="528.0" r="4.6"/></g>
<g fill="#000000" fill-opacity="0.5" stroke="none"><circle cx="315.1" cy="380.0" r="5.1"/><circle cx="326.0" cy="360.9" r="5.1"/><circle cx="328.5" cy="362.5" r="5.1"/><circle cx="330.1" cy="377.2" r="5.1"/><circle cx="335.4" cy="365.9" r="5.1"/><circle cx="337.9" cy="409.0" r="5.1"/><circle cx="341.9" cy="372.8" r="5.1"/><circle cx="342.9" cy="380.4" r="5.1"/><circle cx="342.3" cy="392.8" r="5.1"/><circle cx="348.9" cy="396.9" r="5.1"/><circle cx="351.9" cy="405.0" r="5.1"/><circle cx="353.8" cy="411.9" r="5.1"/><circle cx="362.9" cy="402.9" r="5.1"/><circle cx="370.0" cy="408.8" r="5.1"/><circle cx="380.9" cy="405.9" r="5.1"/><circle cx="394.0" cy="395.9" r="5.1"/><circle cx="406.9" cy="391.9" r="5.1"/><circle cx="410.9" cy="402.9" r="5.1"/><circle cx="420.6" cy="405.0" r="5.1"/><circle cx="424.0" cy="424.8" r="5.1"/><circle cx="427.5" cy="403.8" r="5.1"/><circle cx="431.0" cy="431.9" r="5.1"/><circle cx="445.0" cy="432.9" r="5.1"/><circle cx="451.0" cy="460.9" r="5.1"/><circle cx="455.0" cy="446.9" r="5.1"/><circle cx="461.0" cy="433.9" r="5.1"/><circle cx="466.0" cy="462.9" r="5.1"/><circle cx="477.9" cy="462.9" r="5.1"/><circle cx="491.9" cy="480.9" r="5.1"/><circle cx="494.8" cy="459.8" r="5.1"/><circle cx="498.1" cy="466.9" r="5.1"/><circle cx="502.9" cy="458.8" r="5.1"/><circle cx="503.1" cy="471.9" r="5.1"/><circle cx="504.0" cy="476.9" r="5.1"/><circle cx="528.8" cy="468.9" r="5.1"/><circle cx="538.9" cy="466.9" r="5.1"/><circle cx="547.9" cy="475.9" r="5.1"/><circle cx="558.9" cy="472.9" r="5.1"/><circle cx="571.9" cy="467.9" r="5.1"/><circle cx="579.8" cy="472.9" r="5.1"/><circle cx="582.9" cy="462.9" r="5.1"/><circle cx="586.2" cy="468.8" r="5.1"/><circle cx="591.9" cy="478.9" r="5.1"/><circle cx="600.0" cy="471.9" r="5.1"/><circle cx="615.0" cy="463.9" r="5.1"/><circle cx="622.9" cy="458.9" r="5.1"/><circle cx="636.9" cy="456.9" r="5.1"/><circle cx="652.9" cy="453.9" r="5.1"/><circle cx="669.9" cy="448.9" r="5.1"/><circle cx="688.9" cy="448.9" r="5.1"/><circle cx="704.0" cy="456.9" r="5.1"/><circle cx="705.0" cy="446.9" r="5.1"/><circle cx="706.0" cy="463.9" r="5.1"/><circle cx="716.9" cy="471.9" r="5.1"/><circle cx="735.0" cy="471.9" r="5.1"/><circle cx="738.0" cy="499.9" r="5.1"/><circle cx="748.8" cy="496.9" r="5.1"/><circle cx="750.0" cy="472.9" r="5.1"/><circle cx="755.0" cy="492.9" r="5.1"/><circle cx="761.0" cy="482.9" r="5.1"/><circle cx="762.9" cy="472.9" r="5.1"/><circle cx="766.0" cy="491.9" r="5.1"/><circle cx="769.1" cy="473.9" r="5.1"/><circle cx="775.0" cy="488.9" r="5.1"/><circle cx="787.9" cy="486.9" r="5.1"/><circle cx="802.5" cy="480.9" r="5.1"/><circle cx="809.1" cy="482.9" r="5.1"/><circle cx="820.9" cy="483.9" r="5.1"/><circle cx="837.9" cy="478.9" r="5.1"/><circle cx="849.0" cy="482.9" r="5.1"/></g><g fill="none" stroke="#000000" stroke-opacity="0.5" stroke-width="1.0"><circle cx="315.1" cy="380.0" r="4.6"/><circle cx="326.0" cy="360.9" r="4.6"/><circle cx="328.5" cy="362.5" r="4.6"/><circle cx="330.1" cy="377.2" r="4.6"/><circle cx="335.4" cy="365.9" r="4.6"/><circle cx="337.9" cy="409.0" r="4.6"/><circle cx="341.9" cy="372.8" r="4.6"/><circle cx="342.9" cy="380.4" r="4.6"/><circle cx="342.3" cy="392.8" r="4.6"/><circle cx="348.9" cy="396.9" r="4.6"/><circle cx="351.9" cy="405.0" r="4.6"/><circle cx="353.8" cy="411.9" r="4.6"/><circle cx="362.9" cy="402.9" r="4.6"/><circle cx="370.0" cy="408.8" r="4.6"/><circle cx="380.9" cy="405.9" r="4.6"/><circle cx="394.0" cy="395.9" r="4.6"/><circle cx="406.9" cy="391.9" r="4.6"/><circle cx="410.9" cy="402.9" r="4.6"/><circle cx="420.6" cy="405.0" r="4.6"/><circle cx="424.0" cy="424.8" r="4.6"/><circle cx="427.5" cy="403.8" r="4.6"/><circle cx="431.0" cy="431.9" r="4.6"/><circle cx="445.0" cy="432.9" r="4.6"/><circle cx="451.0" cy="460.9" r="4.6"/><circle cx="455.0" cy="446.9" r="4.6"/><circle cx="461.0" cy="433.9" r="4.6"/><circle cx="466.0" cy="462.9" r="4.6"/><circle cx="477.9" cy="462.9" r="4.6"/><circle cx="491.9" cy="480.9" r="4.6"/><circle cx="494.8" cy="459.8" r="4.6"/><circle cx="498.1" cy="466.9" r="4.6"/><circle cx="502.9" cy="458.8" r="4.6"/><circle cx="503.1" cy="471.9" r="4.6"/><circle cx="504.0" cy="476.9" r="4.6"/><circle cx="528.8" cy="468.9" r="4.6"/><circle cx="538.9" cy="466.9" r="4.6"/><circle cx="547.9" cy="475.9" r="4.6"/><circle cx="558.9" cy="472.9" r="4.6"/><circle cx="571.9" cy="467.9" r="4.6"/><circle cx="579.8" cy="472.9" r="4.6"/><circle cx="582.9" cy="462.9" r="4.6"/><circle cx="586.2" cy="468.8" r="4.6"/><circle cx="591.9" cy="478.9" r="4.6"/><circle cx="600.0" cy="471.9" r="4.6"/><circle cx="615.0" cy="463.9" r="4.6"/><circle cx="622.9" cy="458.9" r="4.6"/><circle cx="636.9" cy="456.9" r="4.6"/><circle cx="652.9" cy="453.9" r="4.6"/><circle cx="669.9" cy="448.9" r="4.6"/><circle cx="688.9" cy="448.9" r="4.6"/><circle cx="704.0" cy="456.9" r="4.6"/><circle cx="705.0" cy="446.9" r="4.6"/><circle cx="706.0" cy="463.9" r="4.6"/><circle cx="716.9" cy="471.9" r="4.6"/><circle cx="735.0" cy="471.9" r="4.6"/><circle cx="738.0" cy="499.9" r="4.6"/><circle cx="748.8" cy="496.9" r="4.6"/><circle cx="750.0" cy="472.9" r="4.6"/><circle cx="755.0" cy="492.9" r="4.6"/><circle cx="761.0" cy="482.9" r="4.6"/><circle cx="762.9" cy="472.9" r="4.6"/><circle cx="766.0" cy="491.9" r="4.6"/><circle cx="769.1" cy="473.9" r="4.6"/><circle cx="775.0" cy="488.9" r="4.6"/><circle cx="787.9" cy="486.9" r="4.6"/><circle cx="802.5" cy="480.9" r="4.6"/><circle cx="809.1" cy="482.9" r="4.6"/><circle cx="820.9" cy="483.9" r="4.6"/><circle cx="837.9" cy="478.9" r="4.6"/><circle cx="849.0" cy="482.9" r="4.6"/></g></g>
<g><polyline fill="none" stroke="#E69F00" stroke-opacity="0.5" stroke-width="1.6" stroke-linejoin="round" points="152.9,357.1 153.2,354.0 153.7,350.5 154.2,346.0 154.6,341.0 155.0,336.0 155.0,331.8 156.3,328.0 157.5,324.3 157.9,321.8 158.3,319.3 159.0,317.0 159.8,315.0 161.4,313.6 163.3,312.6 165.4,311.9 167.5,311.2 169.6,310.6 171.7,310.1 176.2,310.0 180.0,316.8 184.2,324.3 191.2,331.8 193.8,338.5 195.0,346.8 197.9,354.0 197.9,361.2 198.8,368.8 198.8,402.7 199.0,397.9 200.8,382.5 200.9,407.1 201.9,392.7 202.1,375.4 202.1,387.5 206.8,431.2 210.0,411.7 210.0,421.7 210.2,427.1 211.0,416.7 212.2,436.2 212.7,440.8 217.7,440.0 227.0,439.8 236.9,461.7 239.0,457.0 240.1,441.8 241.0,452.5 241.6,450.2 241.8,460.4 242.2,465.1 243.8,474.9 247.1,448.7 253.0,476.8 254.0,446.8 260.2,443.7 265.0,478.8 278.9,480.6 283.1,483.8 295.6,506.2 297.5,508.0 299.4,510.0 299.4,510.0 305.0,484.8 306.0,502.9 318.8,495.0 321.0,490.0 321.2,482.5 323.1,480.6 323.1,480.6"/>
<polyline fill="none" stroke="#56B4E9" stroke-opacity="0.5" stroke-width="1.6" stroke-linejoin="round" points="147.9,386.7 148.0,386.8 148.3,386.9 148.8,387.2 149.3,387.5 150.0,387.8 150.8,388.3 151.6,388.7 152.7,389.0 153.8,389.3 155.1,389.6 156.4,389.9 157.8,389.7 159.4,389.4 160.8,388.6 162.1,387.6 163.6,386.4 164.9,385.1 166.3,383.7 167.6,382.2 168.9,380.5 170.2,378.7 171.5,376.9 172.9,375.0 175.0,367.9 175.8,346.8 176.0,358.8 177.1,338.5 181.7,334.3 185.0,330.2 189.2,319.3 195.2,312.7 202.1,298.9 208.9,287.7 215.2,291.8 223.1,305.8 228.0,316.0 236.1,311.8 247.8,297.5 257.0,293.0 263.0,292.0 267.0,291.2 271.5,292.0 276.2,293.2 280.3,295.0 284.5,296.6 288.5,297.8 292.0,298.3 294.6,298.6"/>
<polyline fill="none" stroke="#009E73" stroke-opacity="0.5" stroke-width="1.6" stroke-linejoin="round" points="220.8,215.4 225.0,210.8 227.1,220.8 229.3,231.7 234.3,230.8 238.9,241.7 243.1,267.5 247.6,284.9 249.4,294.2 253.5,292.5 257.5,290.5 261.0,288.6 264.0,291.0 268.0,293.5 272.2,294.2 278.5,302.9 285.8,299.7 291.7,305.9 299.0,309.9 306.0,324.7 312.1,335.8 322.9,369.9 333.1,379.0 342.9,380.5 351.9,405.0 365.0,411.9 372.9,439.0 376.0,426.9 384.0,426.9 393.1,443.8 395.2,533.4 399.6,518.0 403.8,458.8 405.0,514.4 407.7,535.6 410.0,506.2 411.9,473.5 413.9,531.2 415.0,459.4 419.2,465.0 427.0,527.5 435.6,535.5 444.0,537.5 445.0,542.5 446.0,540.0 447.5,545.0 449.0,543.5 451.2,547.5 456.9,557.5 463.1,560.0 480.0,560.9 497.9,565.9 513.1,568.8 528.1,600.9 533.1,577.9 533.1,590.9 540.6,602.8 541.1,586.9 562.9,590.0 570.9,597.9 574.0,590.0 588.8,588.3 589.4,585.7 590.0,587.5 595.3,595.3 599.4,583.4 600.5,591.0 601.6,595.3 603.9,585.6 607.2,595.0 623.1,601.9 626.9,606.9 634.0,601.9"/>
<polyline fill="none" stroke="#F0E442" stroke-opacity="0.5" stroke-width="1.6" stroke-linejoin="round" points="192.9,180.0 199.0,191.9 205.0,202.9 211.0,215.0 217.0,225.8 227.3,238.0 234.8,249.2 239.8,260.0 241.5,271.2 251.4,281.5 258.0,294.0 264.3,306.0 269.0,321.8 270.8,335.8 279.5,332.8 285.8,336.9 285.8,366.7 289.1,349.2 289.2,355.8 295.0,372.5 305.3,381.5 314.0,388.1 319.0,402.9 328.1,413.8 338.1,427.9 341.5,461.2 342.0,443.1 352.8,455.3 362.0,463.8 369.9,472.6 375.6,501.9 375.6,507.8 379.0,513.1 379.0,523.8 380.0,496.9 380.6,478.8 385.0,486.2 398.1,532.8 409.0,543.1 423.1,545.9 434.1,555.9 455.0,566.9 470.9,579.9 481.0,574.9 482.0,585.6 493.8,587.5 505.9,590.9 510.0,596.9 521.2,600.9 535.0,602.9 551.9,608.8 559.6,620.0 562.5,627.5 565.3,623.5 573.1,630.9 585.9,630.9 608.9,635.9 620.0,625.9 627.9,647.9 648.9,625.9 652.9,638.9 661.9,628.8 674.0,647.3 674.0,651.9 679.0,637.8 683.0,649.8 690.8,649.8 696.5,652.7 719.1,655.0 720.0,655.9"/>
<polyline fill="none" stroke="#0072B2" stroke-opacity="0.5" stroke-width="1.6" stroke-linejoin="round" points="202.0,44.8 202.9,54.0 207.0,62.9 214.0,71.9 218.9,80.9 228.0,89.8 232.1,98.8 232.9,107.8 236.0,116.9 245.0,124.8 252.9,134.0 260.1,135.0 271.0,135.0 282.5,136.3 283.5,136.5 284.5,136.8 300.1,138.9 313.9,143.8 325.9,147.9 341.0,151.9 356.0,156.9 366.9,162.8 367.9,174.0 376.0,187.9 382.9,212.9 393.0,200.9 413.1,210.9 454.0,226.9 461.0,204.9 479.0,231.9 507.0,247.8 524.9,233.9 554.9,272.9 580.9,243.9 587.9,257.0 591.0,237.9 592.0,241.9 598.0,258.9 616.9,236.9 626.0,257.9 638.8,224.9 669.9,226.9 694.9,218.9 704.0,307.9 710.0,223.9 712.0,294.9 718.0,260.9 723.0,290.9 759.9,307.9 765.9,237.9 768.9,307.9 773.0,231.3 787.9,248.9 793.0,213.9 806.0,225.9 814.0,257.9 815.0,295.9 829.0,216.9 842.0,268.9 916.9,272.9"/>
<polyline fill="none" stroke="#D55E00" stroke-opacity="0.5" stroke-width="1.6" stroke-linejoin="round" points="147.1,346.3 147.1,345.8 147.2,345.4 147.2,344.9 147.3,344.4 147.4,344.0 147.6,343.5 147.8,343.1 147.9,342.7 148.1,342.3 148.4,341.9 148.7,341.5 149.0,341.2 149.3,340.8 149.8,340.4 150.4,339.8 151.1,339.2 151.7,338.7 152.3,338.2 153.0,337.7 153.6,337.2 154.2,336.6 154.9,336.1 155.5,335.8 156.4,335.3 157.3,334.9 158.2,334.4 159.1,334.0 159.9,333.6 160.8,333.1 161.7,332.7 162.6,332.5 163.5,332.2 165.0,331.9 166.9,331.4 169.1,330.8 171.4,330.0 173.8,329.3 176.3,328.3 178.9,327.2 181.6,326.1 184.3,324.7 187.6,323.1 190.8,321.9 194.1,320.9 197.4,320.3 200.6,319.9 203.9,319.8 207.1,319.8 210.4,319.9"/>
<polyline fill="none" stroke="#CC79A7" stroke-opacity="0.5" stroke-width="1.6" stroke-linejoin="round" points="151.8,212.9 153.3,213.5 154.5,214.4 155.7,215.4 156.8,216.6 157.9,217.7 159.0,218.9 160.0,220.1 161.0,221.3 162.0,222.5 163.0,223.8 164.0,225.0 164.9,226.3 166.0,227.4 167.1,228.5 168.3,229.6 172.1,230.0 175.8,231.7 181.7,234.2 185.8,235.0 189.2,236.7 195.0,237.9 202.0,235.7 210.0,235.0 218.8,235.7 220.6,235.3 231.5,233.5 240.0,235.6 251.9,236.9 261.9,221.9 268.8,231.9 275.0,233.8 276.9,252.9 285.0,258.9 296.0,260.0 296.0,263.8 316.0,264.9 341.9,248.9 354.9,260.9 372.0,269.9 390.0,269.9 404.9,275.9 421.9,274.9 435.9,265.9 446.0,290.9 458.9,272.9 477.9,284.9 495.0,310.9 509.0,287.9 522.0,288.9 525.0,317.9 535.9,324.9 540.0,292.9 544.0,321.9 562.9,313.9 570.9,350.9 590.9,341.9 592.9,317.9 597.0,313.8 609.9,315.9 609.9,346.9 628.0,346.9 628.0,351.9 632.5,344.8 635.0,318.9 639.0,305.9 651.7,333.8 655.0,334.9 667.9,336.9"/>
<polyline fill="none" stroke="#999999" stroke-opacity="0.5" stroke-width="1.6" stroke-linejoin="round" points="252.9,291.8 256.0,302.0 257.2,286.8 262.3,296.1 267.3,298.0 272.9,305.5 275.0,314.6 275.2,328.8 279.1,324.4 285.4,327.8 287.5,363.3 287.9,344.8 292.9,365.8 302.1,365.8 305.0,376.7 308.1,402.5 311.2,407.5 316.9,411.2 320.0,415.6 324.0,435.0 326.9,453.8 332.9,443.8 334.9,460.3 338.8,446.9 345.0,463.8 346.2,439.4 355.0,459.4 370.0,458.8 381.9,491.2 384.0,459.6 386.9,473.5 388.8,494.4 397.5,492.5 407.5,490.6 411.5,505.6 419.4,486.2 419.4,507.5 423.1,491.9 426.9,503.8 453.8,502.9 472.9,502.9 491.9,503.8 501.0,504.8 515.0,508.9 535.4,515.8 542.7,522.6 544.3,514.8 549.0,526.8 556.0,540.8 557.3,527.8 581.8,539.3 582.3,540.3 582.3,528.9 583.3,527.8 590.6,533.0 592.7,530.9 605.2,526.2 605.7,528.3 620.8,527.3 620.8,527.8 638.5,527.3 639.5,528.0 640.1,528.9"/>
<polyline fill="none" stroke="#000000" stroke-opacity="0.5" stroke-width="1.6" stroke-linejoin="round" points="315.1,380.0 326.0,360.9 328.5,362.5 330.1,377.2 335.4,365.9 337.9,409.0 341.9,372.8 342.3,392.8 342.9,380.4 348.9,396.9 351.9,405.0 353.8,411.9 362.9,402.9 370.0,408.8 380.9,405.9 394.0,395.9 406.9,391.9 410.9,402.9 420.6,405.0 424.0,424.8 427.5,403.8 431.0,431.9 445.0,432.9 451.0,460.9 455.0,446.9 461.0,433.9 466.0,462.9 477.9,462.9 491.9,480.9 494.8,459.8 498.1,466.9 502.9,458.8 503.1,471.9 504.0,476.9 528.8,468.9 538.9,466.9 547.9,475.9 558.9,472.9 571.9,467.9 579.8,472.9 582.9,462.9 586.2,468.8 591.9,478.9 600.0,471.9 615.0,463.9 622.9,458.9 636.9,456.9 652.9,453.9 669.9,448.9 688.9,448.9 704.0,456.9 705.0,446.9 706.0,463.9 716.9,471.9 735.0,471.9 738.0,499.9 748.8,496.9 750.0,472.9 755.0,492.9 761.0,482.9 762.9,472.9 766.0,491.9 769.1,473.9 775.0,488.9 787.9,486.9 802.5,480.9 809.1,482.9 820.9,483.9 837.9,478.9 849.0,482.9"/></g>
<g shape-rendering="crispEdges"><rect x="109" y="14" width="1" height="674" fill="#333333"/><rect x="109" y="14" width="848" height="1" fill="#333333"/><rect x="955" y="14" width="2" height="674" fill="#333333"/><rect x="109" y="686" width="848" height="2" fill="#333333"/><rect x="133" y="688" width="2" height="7" fill="#333333"/><rect x="247" y="688" width="2" height="7" fill="#333333"/><rect x="361" y="688" width="2" height="7" fill="#333333"/><rect x="475" y="688" width="2" height="7" fill="#333333"/><rect x="590" y="688" width="2" height="7" fill="#333333"/><rect x="704" y="688" width="2" height="7" fill="#333333"/><rect x="818" y="688" width="2" height="7" fill="#333333"/><rect x="933" y="688" width="2" height="7" fill="#333333"/><rect x="101" y="192" width="8" height="2" fill="#333333"/><rect x="101" y="375" width="8" height="2" fill="#333333"/><rect x="101" y="558" width="8" height="2" fill="#333333"/></g>
<g></g>
<text x="128.77" y="716.90" font-size="19" textLength="10.91" lengthAdjust="spacingAndGlyphs" fill="#4d4d4d">0</text>
<text x="220.74" y="716.90" font-size="19" textLength="53.77" lengthAdjust="spacingAndGlyphs" fill="#4d4d4d">10000</text>
<text x="333.24" y="716.90" font-size="19" textLength="54.77" lengthAdjust="spacingAndGlyphs" fill="#4d4d4d">20000</text>
<text x="447.76" y="716.90" font-size="19" textLength="54.75" lengthAdjust="spacingAndGlyphs" fill="#4d4d4d">30000</text>
<text x="563.23" y="716.90" font-size="19" textLength="53.77" lengthAdjust="spacingAndGlyphs" fill="#4d4d4d">40000</text>
<text x="676.76" y="716.90" font-size="19" textLength="54.75" lengthAdjust="spacingAndGlyphs" fill="#4d4d4d">50000</text>
<text x="790.51" y="716.90" font-size="19" textLength="53.98" lengthAdjust="spacingAndGlyphs" fill="#4d4d4d">60000</text>
<text x="906.02" y="716.90" font-size="19" textLength="54.24" lengthAdjust="spacingAndGlyphs" fill="#4d4d4d">70000</text>
<text x="51.40" y="200.80" font-size="19" textLength="42.36" lengthAdjust="spacingAndGlyphs" fill="#4d4d4d">2400</text>
<text x="51.40" y="383.80" font-size="19" textLength="42.36" lengthAdjust="spacingAndGlyphs" fill="#4d4d4d">2000</text>
<text x="51.21" y="566.80" font-size="19" textLength="42.56" lengthAdjust="spacingAndGlyphs" fill="#4d4d4d">1600</text>
<text x="438.00" y="748.00" font-size="26" textLength="186.00" lengthAdjust="spacingAndGlyphs" fill="#000">GDP per capita</text>
<text x="1000.19" y="147.90" font-size="28.3" textLength="199.41" lengthAdjust="spacingAndGlyphs" fill="#000">Country/Region</text>
<text x="1059.42" y="197.70" font-size="22.5" textLength="56.58" lengthAdjust="spacingAndGlyphs" fill="#000">Brazil</text>
<text x="1059.71" y="243.70" font-size="22.5" textLength="58.50" lengthAdjust="spacingAndGlyphs" fill="#000">China</text>
<text x="1060.62" y="289.70" font-size="22.5" textLength="71.48" lengthAdjust="spacingAndGlyphs" fill="#000">France</text>
<text x="1059.70" y="335.70" font-size="22.5" textLength="92.10" lengthAdjust="spacingAndGlyphs" fill="#000">Germany</text>
<text x="1060.60" y="381.70" font-size="22.5" textLength="111.80" lengthAdjust="spacingAndGlyphs" fill="#000">Hong Kong</text>
<text x="1060.65" y="427.70" font-size="22.5" textLength="45.98" lengthAdjust="spacingAndGlyphs" fill="#000">India</text>
<text x="1060.68" y="473.70" font-size="22.5" textLength="71.41" lengthAdjust="spacingAndGlyphs" fill="#000">Taiwan</text>
<text x="1060.10" y="519.70" font-size="22.5" textLength="158.20" lengthAdjust="spacingAndGlyphs" fill="#000">United Kingdom</text>
<text x="1060.11" y="565.70" font-size="22.5" textLength="135.50" lengthAdjust="spacingAndGlyphs" fill="#000">United States</text>
<text transform="translate(38.9,350.9) rotate(-90)" font-size="32.5" text-anchor="middle" textLength="471.5" lengthAdjust="spacingAndGlyphs" fill="#000">Annual working hours per worker</text>
<g stroke="#E69F00" fill="#E69F00"><line x1="1003.9" x2="1041" y1="187.8" y2="187.8" stroke-opacity="0.5" stroke-width="1.6"/><circle cx="1022.5" cy="187.8" r="5.1" fill-opacity="0.5" stroke="none"/><circle cx="1022.5" cy="187.8" r="4.6" fill="none" stroke-opacity="0.5" stroke-width="1.0"/></g>
<g stroke="#56B4E9" fill="#56B4E9"><line x1="1003.9" x2="1041" y1="233.8" y2="233.8" stroke-opacity="0.5" stroke-width="1.6"/><circle cx="1022.5" cy="233.8" r="5.1" fill-opacity="0.5" stroke="none"/><circle cx="1022.5" cy="233.8" r="4.6" fill="none" stroke-opacity="0.5" stroke-width="1.0"/></g>
<g stroke="#009E73" fill="#009E73"><line x1="1003.9" x2="1041" y1="279.8" y2="279.8" stroke-opacity="0.5" stroke-width="1.6"/><circle cx="1022.5" cy="279.8" r="5.1" fill-opacity="0.5" stroke="none"/><circle cx="1022.5" cy="279.8" r="4.6" fill="none" stroke-opacity="0.5" stroke-width="1.0"/></g>
<g stroke="#F0E442" fill="#F0E442"><line x1="1003.9" x2="1041" y1="325.8" y2="325.8" stroke-opacity="0.5" stroke-width="1.6"/><circle cx="1022.5" cy="325.8" r="5.1" fill-opacity="0.5" stroke="none"/><circle cx="1022.5" cy="325.8" r="4.6" fill="none" stroke-opacity="0.5" stroke-width="1.0"/></g>
<g stroke="#0072B2" fill="#0072B2"><line x1="1003.9" x2="1041" y1="371.8" y2="371.8" stroke-opacity="0.5" stroke-width="1.6"/><circle cx="1022.5" cy="371.8" r="5.1" fill-opacity="0.5" stroke="none"/><circle cx="1022.5" cy="371.8" r="4.6" fill="none" stroke-opacity="0.5" stroke-width="1.0"/></g>
<g stroke="#D55E00" fill="#D55E00"><line x1="1003.9" x2="1041" y1="417.8" y2="417.8" stroke-opacity="0.5" stroke-width="1.6"/><circle cx="1022.5" cy="417.8" r="5.1" fill-opacity="0.5" stroke="none"/><circle cx="1022.5" cy="417.8" r="4.6" fill="none" stroke-opacity="0.5" stroke-width="1.0"/></g>
<g stroke="#CC79A7" fill="#CC79A7"><line x1="1003.9" x2="1041" y1="463.8" y2="463.8" stroke-opacity="0.5" stroke-width="1.6"/><circle cx="1022.5" cy="463.8" r="5.1" fill-opacity="0.5" stroke="none"/><circle cx="1022.5" cy="463.8" r="4.6" fill="none" stroke-opacity="0.5" stroke-width="1.0"/></g>
<g stroke="#999999" fill="#999999"><line x1="1003.9" x2="1041" y1="509.8" y2="509.8" stroke-opacity="0.5" stroke-width="1.6"/><circle cx="1022.5" cy="509.8" r="5.1" fill-opacity="0.5" stroke="none"/><circle cx="1022.5" cy="509.8" r="4.6" fill="none" stroke-opacity="0.5" stroke-width="1.0"/></g>
<g stroke="#000000" fill="#000000"><line x1="1003.9" x2="1041" y1="555.8" y2="555.8" stroke-opacity="0.5" stroke-width="1.6"/><circle cx="1022.5" cy="555.8" r="5.1" fill-opacity="0.5" stroke="none"/><circle cx="1022.5" cy="555.8" r="4.6" fill="none" stroke-opacity="0.5" stroke-width="1.0"/></g>
</svg></body></html>
